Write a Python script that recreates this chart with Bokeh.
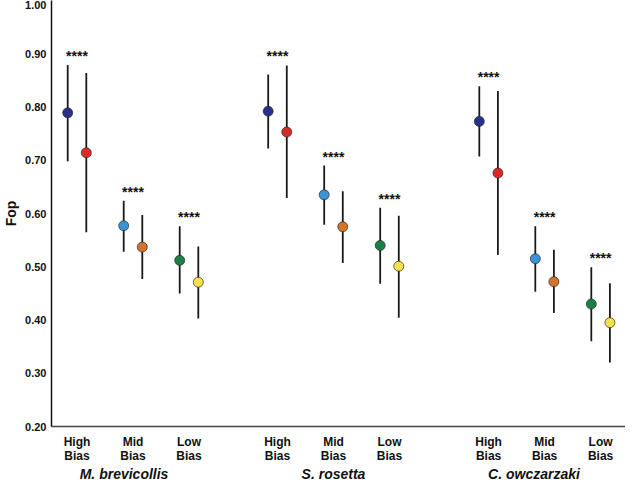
from bokeh.plotting import figure
from bokeh.models import FixedTicker, Range1d, ColumnDataSource
from bokeh.layouts import column
from bokeh.embed import file_html
from bokeh.resources import INLINE
from bokeh.core.properties import value

# ---- data ----
species = ["M. brevicollis", "S. rosetta", "C. owczarzaki"]
bias_labels = ["High\nBias", "Mid\nBias", "Low\nBias"]
y_ticks = [0.2, 0.3, 0.4, 0.5, 0.6, 0.7, 0.8, 0.9, 1.0]

# first marker of each pair (dark blue / light blue / green)
mean_a = [0.789, 0.577, 0.512, 0.792, 0.635, 0.540, 0.773, 0.515, 0.430]
upper_a = [0.879, 0.624, 0.576, 0.861, 0.690, 0.611, 0.839, 0.576, 0.499]
lower_a = [0.698, 0.528, 0.450, 0.722, 0.579, 0.468, 0.707, 0.453, 0.360]
# second marker of each pair (red / orange / yellow)
mean_b = [0.714, 0.537, 0.471, 0.753, 0.575, 0.501, 0.676, 0.472, 0.395]
upper_b = [0.864, 0.597, 0.538, 0.878, 0.642, 0.596, 0.830, 0.532, 0.469]
lower_b = [0.565, 0.477, 0.403, 0.629, 0.507, 0.404, 0.522, 0.413, 0.320]
signif = ["****"] * 9

colors_a = ["#2a2f8c", "#3a93d4", "#1b8046"]
colors_b = ["#d92a28", "#d4732b", "#f5e24b"]

# ---- layout ----
group_offsets = [0.0, 3.58, 7.35]
species_label_shift = [-0.16, 0.0, -0.19]
pair_half = 0.166

centers, xa, xb, ca, cb = [], [], [], [], []
for g in range(3):
    for b in range(3):
        c = group_offsets[g] + b
        centers.append(c)
        xa.append(c - pair_half)
        xb.append(c + pair_half)
        ca.append(colors_a[b])
        cb.append(colors_b[b])
species_x = [group_offsets[g] + 1 + species_label_shift[g] for g in range(3)]

LEFT = 43
FW, FH = 574, 426
x_start = (LEFT + 8 - 76.5) / 56.0
x_end = x_start + FW / 56.0
xr = Range1d(x_start, x_end)

p = figure(frame_width=FW, frame_height=FH, output_backend="svg", toolbar_location=None,
           x_range=xr, y_range=Range1d(0.2, 1.0),
           min_border_left=LEFT, min_border_right=0, min_border_top=0,
           min_border_bottom=10)
p.outline_line_color = None
p.xgrid.visible = False
p.ygrid.visible = False
p.background_fill_color = "white"

src_a = ColumnDataSource(dict(x=xa, m=mean_a, lo=lower_a, hi=upper_a, c=ca))
src_b = ColumnDataSource(dict(x=xb, m=mean_b, lo=lower_b, hi=upper_b, c=cb))
for s in (src_a, src_b):
    p.segment(x0="x", y0="lo", x1="x", y1="hi", source=s, line_width=1.8, line_color="#1a1a1a")
    p.scatter(x="x", y="m", source=s, size=10, fill_color="c", line_color="#2a2a2a", line_width=0.7)

star_y = [max(a, b) + 0.017 for a, b in zip(upper_a, upper_b)]
p.text(x=centers, y=star_y, text=signif, text_align="center", text_baseline="alphabetic",
       text_font=value("Liberation Sans"), text_font_style="bold", text_font_size="14px",
       text_color="#111111")

# y axis
ya = p.yaxis[0]
ya.ticker = FixedTicker(ticks=y_ticks)
ya.major_label_overrides = {t: "%.2f" % t for t in y_ticks}
ya.major_tick_out = 0
ya.major_tick_in = 0
ya.minor_tick_out = 0
ya.minor_tick_in = 0
ya.axis_line_width = 1.5
ya.axis_line_color = "#111111"
ya.major_label_standoff = 5
ya.major_label_text_font = "Liberation Sans"
ya.major_label_text_font_style = "bold"
ya.major_label_text_font_size = "11px"
ya.major_label_text_color = "#111111"
ya.axis_label = "Fop"
ya.axis_label_standoff = 3
ya.axis_label_text_font = "Liberation Sans"
ya.axis_label_text_font_style = "bold"
ya.axis_label_text_font_size = "14px"
ya.axis_label_text_color = "#111111"

# x axis: bias levels
xa_ax = p.xaxis[0]
xa_ax.axis_label = None
xa_ax.ticker = FixedTicker(ticks=centers)
xa_ax.major_label_overrides = {c: bias_labels[i % 3] for i, c in enumerate(centers)}
xa_ax.major_tick_out = 0
xa_ax.major_tick_in = 0
xa_ax.minor_tick_out = 0
xa_ax.minor_tick_in = 0
xa_ax.axis_line_width = 1.5
xa_ax.axis_line_color = "#444444"
xa_ax.major_label_standoff = 8
xa_ax.major_label_text_font = "Liberation Sans"
xa_ax.major_label_text_font_style = "bold"
xa_ax.major_label_text_font_size = "12px"
xa_ax.major_label_text_line_height = 1.0
xa_ax.major_label_text_color = "#111111"

# species strip below
p2 = figure(frame_width=FW, frame_height=16, output_backend="svg", toolbar_location=None,
            x_range=xr, y_range=Range1d(0, 1), x_axis_location=None, y_axis_location=None,
            min_border_left=LEFT, min_border_right=0, min_border_top=0, min_border_bottom=0)
p2.outline_line_color = None
p2.xgrid.visible = False
p2.ygrid.visible = False
p2.text(x=species_x, y=[0.5] * 3, text=species, text_align="center", text_baseline="middle",
        text_font=value("Liberation Sans"), text_font_style="bold italic",
        text_font_size="14px", text_color="#111111")

open("out.html", "w").write(file_html(column(p, p2), INLINE))
